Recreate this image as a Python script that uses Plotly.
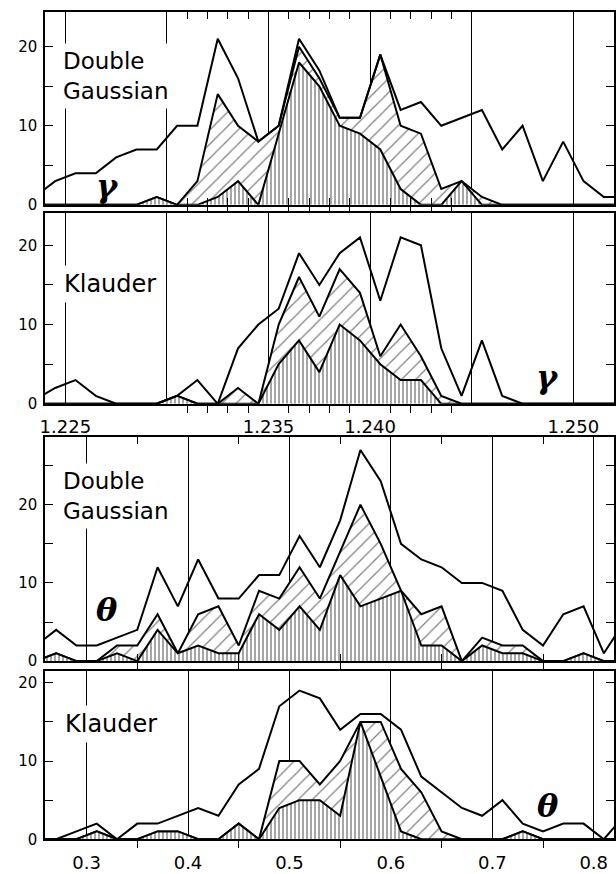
import plotly.graph_objects as go

# ---------------- data ----------------
gamma_x = [1.2235, 1.2245, 1.2255, 1.2265, 1.2275, 1.2285, 1.2295, 1.2305, 1.2315, 1.2325,
           1.2335, 1.2345, 1.2355, 1.2365, 1.2375, 1.2385, 1.2395, 1.2405, 1.2415, 1.2425,
           1.2435, 1.2445, 1.2455, 1.2465, 1.2475, 1.2485, 1.2495, 1.2505, 1.2515, 1.2525]
theta_x = [0.25, 0.27, 0.29, 0.31, 0.33, 0.35, 0.37, 0.39, 0.41, 0.43,
           0.45, 0.47, 0.49, 0.51, 0.53, 0.55, 0.57, 0.59, 0.61, 0.63,
           0.65, 0.67, 0.69, 0.71, 0.73, 0.75, 0.77, 0.79, 0.81, 0.83]

dg_gamma_total = [1, 3, 4, 4, 6, 7, 7, 10, 10, 21, 16, 8, 10, 21, 17, 11, 11, 19, 12, 13,
                  10, 11, 12, 7, 10, 3, 8, 3, 1, 1]
dg_gamma_diag = [0, 0, 0, 0, 0, 0, 1, 0, 3, 14, 10, 8, 10, 20, 16, 11, 11, 19, 10, 9,
                 2, 3, 1, 0, 0, 0, 0, 0, 0, 0]
dg_gamma_vert = [0, 0, 0, 0, 0, 0, 1, 0, 0, 1, 3, 0, 9, 18, 15, 10, 9, 7, 2, 0,
                 0, 3, 0, 0, 0, 0, 0, 0, 0, 0]

kl_gamma_total = [0.5, 2, 3, 1, 0, 0, 0, 1, 3, 0, 7, 10, 12, 19, 15, 19, 21, 13, 21, 20,
                  7, 1, 8, 1, 0, 0, 0, 0, 0, 0]
kl_gamma_diag = [0, 0, 0, 0, 0, 0, 0, 1, 0, 0, 2, 0, 10, 16, 11, 17, 14, 6, 10, 6,
                 1, 0, 0, 0, 0, 0, 0, 0, 0, 0]
kl_gamma_vert = [0, 0, 0, 0, 0, 0, 0, 1, 0, 0, 0, 0, 5, 8, 4, 10, 8, 5, 3, 3,
                 0, 0, 0, 0, 0, 0, 0, 0, 0, 0]

dg_theta_total = [2, 4, 2, 2, 3, 4, 12, 7, 13, 8, 8, 11, 11, 16, 12, 18, 27, 23, 15, 13,
                  12, 10, 10, 9, 4, 2, 6, 7, 1, 5]
dg_theta_diag = [0, 1, 0, 0, 2, 2, 6, 1, 6, 7, 2, 9, 8, 12, 8, 14, 20, 15, 9, 6,
                 7, 0, 3, 2, 2, 0, 0, 1, 0, 0]
dg_theta_vert = [0, 1, 0, 0, 1, 0, 4, 1, 2, 1, 1, 6, 4, 7, 4, 11, 7, 8, 9, 2,
                 2, 0, 2, 1, 1, 0, 0, 1, 0, 0]

kl_theta_total = [0, 0, 1, 2, 0, 2, 2, 3, 4, 3, 7, 9, 17, 19, 18, 14, 16, 16, 14, 8,
                  6, 4, 3, 5, 2, 1, 2, 2, 0, 3]
kl_theta_diag = [0, 0, 0, 1, 0, 0, 1, 1, 0, 0, 2, 0, 10, 10, 7, 10, 15, 15, 9, 6,
                 1, 0, 0, 0, 1, 0, 0, 0, 0, 0]
kl_theta_vert = [0, 0, 0, 1, 0, 0, 1, 1, 0, 0, 2, 0, 4, 5, 5, 3, 15, 8, 1, 0,
                 0, 0, 0, 0, 1, 0, 0, 0, 0, 0]

gamma_grid = [1.225, 1.230, 1.235, 1.240, 1.245, 1.250]
gamma_labels = ["1.225", "", "1.235", "1.240", "", "1.250"]
gamma_minor = [1.231, 1.232, 1.233, 1.234, 1.236, 1.237, 1.238, 1.239,
               1.241, 1.242, 1.243, 1.244]
theta_grid = [0.3, 0.4, 0.5, 0.6, 0.7, 0.8]
theta_labels = ["0.3", "0.4", "0.5", "0.6", "0.7", "0.8"]
theta_minor = [0.35, 0.45, 0.55, 0.65, 0.75]

panel_names = ["Double<br>Gaussian", "Klauder", "Double<br>Gaussian", "Klauder"]

# ---------------- figure ----------------
W, H = 616, 874
fig = go.Figure()

panels = [
    (gamma_x, dg_gamma_total, dg_gamma_diag, dg_gamma_vert, ""),
    (gamma_x, kl_gamma_total, kl_gamma_diag, kl_gamma_vert, "2"),
    (theta_x, dg_theta_total, dg_theta_diag, dg_theta_vert, "3"),
    (theta_x, kl_theta_total, kl_theta_diag, kl_theta_vert, "4"),
]

for xs, tot, dg, vt, s in panels:
    xa, ya = "x" + s, "y" + s
    fig.add_trace(go.Scatter(
        x=xs, y=dg, mode="lines", xaxis=xa, yaxis=ya, fill="tozeroy",
        fillcolor="white",
        fillpattern=dict(shape="/", size=10, solidity=0.12, fgcolor="black", bgcolor="white"),
        line=dict(color="black", width=2), hoverinfo="skip", showlegend=False))
    fig.add_trace(go.Scatter(
        x=xs, y=vt, mode="lines", xaxis=xa, yaxis=ya, fill="tozeroy",
        fillcolor="white",
        fillpattern=dict(shape="|", size=4, solidity=0.35, fgcolor="black", bgcolor="white"),
        line=dict(color="black", width=2), hoverinfo="skip", showlegend=False))
    fig.add_trace(go.Scatter(
        x=xs, y=tot, mode="lines", xaxis=xa, yaxis=ya,
        line=dict(color="black", width=2), hoverinfo="skip", showlegend=False))

panel_px = [(12, 207), (215, 408), (442, 668), (678, 848)]
y_ranges = [[0, 24.4], [0, 24.1], [0, 28.6], [0, 21.5]]
y_minor = [[5, 15], [5, 15], [5, 15, 25], [5, 15]]

tickfont = dict(family="DejaVu Sans", size=15, color="black")
xfont = dict(family="DejaVu Sans", size=18, color="black")

layout = dict(width=W, height=H, paper_bgcolor="white", plot_bgcolor="white",
              margin=dict(l=45, r=1, t=0, b=0), showlegend=False)

for i, (top, bot) in enumerate(panel_px):
    s = "" if i == 0 else str(i + 1)
    is_gamma = i < 2
    grid = gamma_grid if is_gamma else theta_grid
    labels_on = i in (1, 3)
    if is_gamma:
        text = gamma_labels if labels_on else [""] * len(grid)
    else:
        text = theta_labels if labels_on else [""] * len(grid)
    layout["xaxis" + s] = dict(
        domain=[0, 1], anchor="y" + s,
        range=[1.224, 1.252] if is_gamma else [0.259, 0.820],
        tickmode="array", tickvals=grid, ticktext=text,
        ticks="", showgrid=True, gridcolor="black", gridwidth=1,
        zeroline=False, showline=True, linecolor="black", linewidth=1.5,
        mirror="ticks", tickfont=xfont, ticklabelstandoff=6,
        minor=dict(tickmode="array", tickvals=gamma_minor if is_gamma else theta_minor,
                   ticks="outside" if labels_on else "inside",
                   ticklen=7, tickwidth=1.2, tickcolor="black", showgrid=False),
    )
    layout["yaxis" + s] = dict(
        domain=[1 - bot / H, 1 - top / H], anchor="x" + s,
        range=y_ranges[i], tickmode="array", tickvals=[0, 10, 20],
        ticktext=["0", "10", "20"], ticks="inside", ticklen=8, tickwidth=1.2,
        tickcolor="black", showgrid=False, zeroline=False, showline=True,
        linecolor="black", linewidth=1.5, mirror="ticks", tickfont=tickfont,
        ticklabelstandoff=3,
        minor=dict(tickmode="array", tickvals=y_minor[i], ticks="inside", ticklen=8,
                   tickwidth=1.2, tickcolor="black", showgrid=False),
    )

fig.update_layout(**layout)

name_pos = [(0.023, 0.67, 23), (0.025, 0.628, 24), (0.023, 0.74, 23), (0.027, 0.685, 24)]
for i, (nx, ny, fs) in enumerate(name_pos):
    s = "" if i == 0 else str(i + 1)
    fig.add_annotation(
        x=nx, y=ny, xref="x" + s + " domain", yref="y" + s + " domain",
        text=panel_names[i], showarrow=False, xanchor="left", yanchor="middle",
        align="left", bgcolor="white", borderpad=4,
        font=dict(family="DejaVu Sans", size=fs, color="black"))

greek = [("γ", 0.109, 0.10), ("γ", 0.884, 0.14), ("θ", 0.109, 0.228), ("θ", 0.884, 0.20)]
for i, (g, gx, gy) in enumerate(greek):
    s = "" if i == 0 else str(i + 1)
    fig.add_annotation(
        x=gx, y=gy, xref="x" + s + " domain", yref="y" + s + " domain",
        text="<b><i>" + g + "</i></b>", showarrow=False, xanchor="center", yanchor="middle",
        font=dict(family="DejaVu Serif", size=32, color="black"))

fig.write_html("out.html", config={"displayModeBar": False},
               post_script="document.body.style.margin='0';document.body.style.padding='0';")
